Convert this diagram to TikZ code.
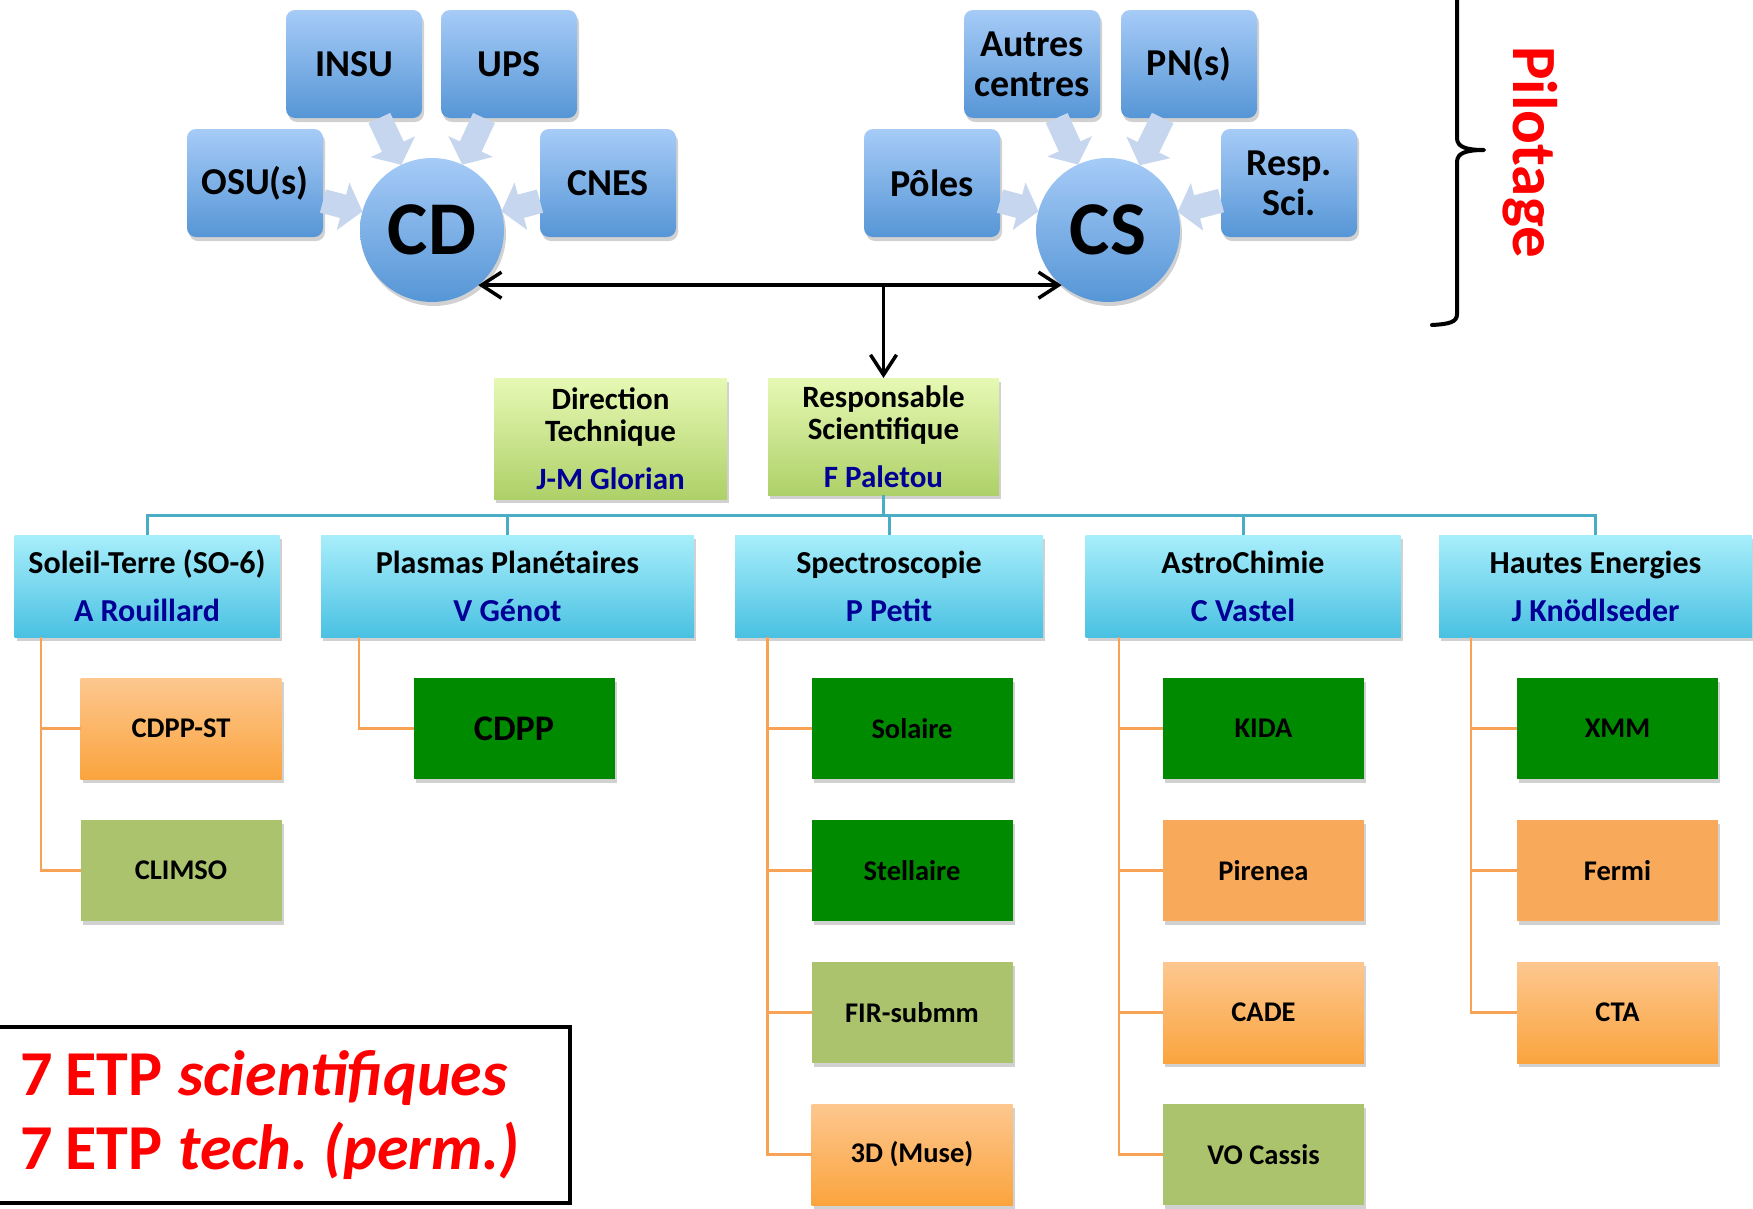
\documentclass[tikz,border=0pt]{standalone}
\usepackage{fontspec}
\setmainfont{Carlito}
\usetikzlibrary{arrows.meta,shadows}
\definecolor{blueT}{RGB}{166,203,247}
\definecolor{blueB}{RGB}{86,150,214}
\definecolor{arrowC}{RGB}{197,214,238}
\definecolor{limeT}{RGB}{230,249,180}
\definecolor{limeB}{RGB}{174,208,104}
\definecolor{cyanT}{RGB}{168,238,251}
\definecolor{cyanB}{RGB}{74,193,226}
\definecolor{oraT}{RGB}{253,199,143}
\definecolor{oraB}{RGB}{251,164,62}
\definecolor{oraF}{RGB}{248,169,90}
\definecolor{dgreen}{RGB}{0,138,0}
\definecolor{oliveC}{RGB}{170,195,108}
\definecolor{namecol}{RGB}{0,0,150}
\definecolor{treeblue}{RGB}{75,172,198}
\definecolor{treeora}{RGB}{247,162,84}
\tikzset{
  shad/.style={drop shadow={shadow xshift=2pt,shadow yshift=-4pt,opacity=0.18,fill=black}},
  topbox/.style={rectangle, rounded corners=9pt, minimum width=136pt, minimum height=108pt,
    inner sep=0pt, outer sep=0pt, top color=blueT, bottom color=blueB, shad,
    font=\fontsize{38}{40}\selectfont\bfseries, align=center},
  hubnode/.style={circle, minimum size=144pt, inner sep=0pt, outer sep=0pt,
    top color=blueT, bottom color=blueB, shad, font=\fontsize{76}{76}\selectfont\bfseries},
  feed/.style={line width=24pt, draw=arrowC, -{Triangle[length=20pt,width=48pt]}},
  headbox/.style={rectangle, inner sep=0pt, outer sep=0pt, top color=limeT, bottom color=limeB,
    shad, font=\fontsize{31}{32}\selectfont\bfseries, align=center},
  catbox/.style={rectangle, minimum height=102pt, inner sep=0pt, outer sep=0pt,
    top color=cyanT, bottom color=cyanB, shad, font=\fontsize{32}{48}\selectfont\bfseries, align=center},
  leaf/.style={rectangle, minimum width=201pt, minimum height=101pt, inner sep=0pt, outer sep=0pt,
    shad, font=\fontsize{28.5}{30}\selectfont\bfseries},
  lgreen/.style={leaf, fill=dgreen},
  lolive/.style={leaf, fill=oliveC},
  lora/.style={leaf, fill=oraF},
  lgrad/.style={leaf, top color=oraT, bottom color=oraB},
  treeline/.style={draw=treeblue, line width=3pt},
  branch/.style={draw=treeora, line width=2.5pt},
  blk/.style={draw=black, line width=3.5pt},
  barb/.tip={Straight Barb[length=20pt,width=26pt]}
}
\begin{document}
\frenchspacing
\begin{tikzpicture}[x=1pt,y=-1pt]
\fill[white] (0,0) rectangle (1753,1208);
\useasboundingbox (0,0) rectangle (1753,1208);

% pilotage hubs
\node[topbox] (insu) at (354,64) {INSU};
\node[topbox] (ups) at (509,64) {UPS};
\node[topbox] (osu) at (255,183) {OSU(s)};
\node[topbox] (cnes) at (608,183) {CNES};
\node[hubnode] (cd) at (432,230) {CD};
\node[topbox] (autres) at (1032,64) {Autres\\centres};
\node[topbox] (pns) at (1189,64) {PN(s)};
\node[topbox] (poles) at (932,183) {Pôles};
\node[topbox] (resp) at (1289,183) {Resp.\\Sci.};
\node[hubnode] (cs) at (1108,230) {CS};

\foreach \s/\t in {insu/cd, ups/cd, osu/cd, cnes/cd, autres/cs, pns/cs, poles/cs, resp/cs}
  \draw[feed] (\s) -- (\t);

% direction boxes
\node[headbox, minimum width=233pt, minimum height=121pt] (dt) at (610.5,438.5)
  {Direction\\Technique\\[16pt]\textcolor{namecol}{J-M Glorian}};
\node[headbox, minimum width=231pt, minimum height=117pt] (rs) at (883.5,436.5)
  {Responsable\\Scientifique\\[16pt]\textcolor{namecol}{F Paletou}};

% CD <-> CS and down arrow
\draw[blk, barb-barb] (cd.-50) -- (cs.-130);
\coordinate (j) at (rs.north |- cd.-50);
\draw[blk, -barb] (j) -- (rs.north);

% themes
\node[catbox, minimum width=265pt] (st) at (147,586) {Soleil-Terre (SO-6)\\\textcolor{namecol}{A Rouillard}};
\node[catbox, minimum width=373pt] (pp) at (507.5,586) {Plasmas Planétaires\\\textcolor{namecol}{V Génot}};
\node[catbox, minimum width=308pt] (sp) at (889,586) {Spectroscopie\\\textcolor{namecol}{P Petit}};
\node[catbox, minimum width=315pt] (ac) at (1243,586) {AstroChimie\\\textcolor{namecol}{C Vastel}};
\node[catbox, minimum width=313pt] (he) at (1595.5,586) {Hautes Energies\\\textcolor{namecol}{J Knödlseder}};

\coordinate (bus) at (883.5,515);
\draw[treeline] (rs.south) -- (bus);
\foreach \c in {st,pp,sp,ac,he}
  \draw[treeline] (\c.north) |- (bus);

% services
\node[lgrad] (cdppst) at (181,728.5) {CDPP-ST};
\node[lolive] (climso) at (181,870.5) {CLIMSO};
\node[lgreen, font=\fontsize{36}{36}\selectfont\bfseries] (cdpp) at (514,728.5) {CDPP};
\node[lgreen] (solaire) at (912,728.5) {Solaire};
\node[lgreen] (stellaire) at (912,870.5) {Stellaire};
\node[lolive] (fir) at (912,1012.5) {FIR-submm};
\node[lgrad] (muse) at (912,1154.5) {3D (Muse)};
\node[lgreen] (kida) at (1263.5,728.5) {KIDA};
\node[lora] (pirenea) at (1263.5,870.5) {Pirenea};
\node[lgrad] (cade) at (1263.5,1012.5) {CADE};
\node[lolive] (vo) at (1263.5,1154.5) {VO Cassis};
\node[lgreen] (xmm) at (1617.5,728.5) {XMM};
\node[lora] (fermi) at (1617.5,870.5) {Fermi};
\node[lgrad] (cta) at (1617.5,1012.5) {CTA};

\foreach \c in {cdppst,climso} \draw[branch] ([xshift=26.5pt]st.south west) |- (\c.west);
\draw[branch] ([xshift=38pt]pp.south west) |- (cdpp.west);
\foreach \c in {solaire,stellaire,fir,muse} \draw[branch] ([xshift=32.5pt]sp.south west) |- (\c.west);
\foreach \c in {kida,pirenea,cade,vo} \draw[branch] ([xshift=33.5pt]ac.south west) |- (\c.west);
\foreach \c in {xmm,fermi,cta} \draw[branch] ([xshift=32pt]he.south west) |- (\c.west);

% brace and Pilotage
\begin{scope}
\clip (0,0) rectangle (1753,1208);
\draw[black, line width=4pt, line cap=round, line join=round]
  (1432,-30) .. controls (1450,-30) and (1457,-27) .. (1457,-15)
  -- (1457,138) .. controls (1457,147) and (1466,150) .. (1484,150)
  .. controls (1466,150) and (1457,153) .. (1457,162)
  -- (1457,314) .. controls (1457,322) and (1450,324) .. (1432,325);
\end{scope}
\node[rotate=-90, text=red, font=\fontsize{63}{63}\selectfont\bfseries] (pil) at (1530,152) {Pilotage};

% ETP box
\node[draw=black, line width=4pt, minimum width=578pt, minimum height=176pt, inner xsep=28pt,
  inner ysep=0pt, text width=522pt, align=left, text=red,
  font=\fontsize{64}{74}\selectfont\bfseries, anchor=west] (etp) at (-10,1115)
  {7\hspace{13pt}ETP\hspace{16pt}\textit{scientifiques}\\7\hspace{13pt}ETP\hspace{16pt}\textit{tech.\hspace{15pt}(perm.)}};
\end{tikzpicture}
\end{document}
